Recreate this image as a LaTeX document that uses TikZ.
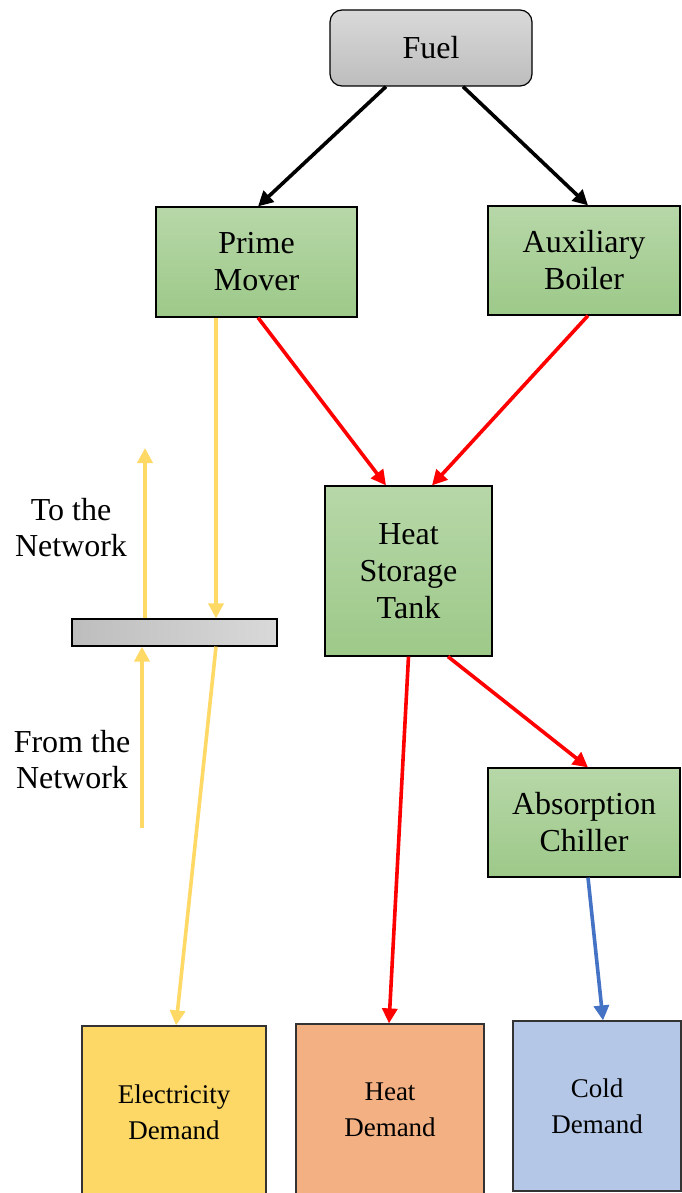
\documentclass[tikz,border=0pt]{standalone}
\usepackage{fontspec}
\setmainfont{Liberation Serif}
\newfontfamily\tnr{Liberation Serif}
\usetikzlibrary{arrows.meta}
\definecolor{gtop}{HTML}{B7D7A8}
\definecolor{gbot}{HTML}{9DC989}
\definecolor{graytop}{HTML}{D9D9D9}
\definecolor{graybot}{HTML}{BDBDBD}
\definecolor{eyel}{HTML}{FDD866}
\definecolor{horange}{HTML}{F3B083}
\definecolor{cblue}{HTML}{B4C7E7}
\definecolor{ayel}{HTML}{FFD966}
\definecolor{ablue}{HTML}{4472C4}
\begin{document}
\begin{tikzpicture}[x=1pt,y=-1pt,
  box/.style={draw=black, line width=1.2pt, inner sep=0pt, align=center, font=\tnr\fontsize{32}{37}\selectfont},
  greenbox/.style={box, top color=gtop, bottom color=gbot},
  demand/.style={box, draw=black!80, font=\tnr\fontsize{27}{36}\selectfont},
  lbl/.style={align=center, inner sep=0pt, font=\tnr\fontsize{32}{36}\selectfont},
  arr/.style={line width=3.6pt, -{Triangle[length=15pt,width=15pt]}}]
\useasboundingbox (0,0) rectangle (681,1193);
\node[box, rounded corners=12pt, top color=graytop, bottom color=graybot, minimum width=202pt, minimum height=76pt] (fuel) at (431,48) {Fuel};
\node[greenbox, minimum width=201pt, minimum height=110pt] (pm) at (256.5,262) {Prime\\Mover};
\node[greenbox, minimum width=192pt, minimum height=109pt] (aux) at (584,260.5) {Auxiliary\\Boiler};
\node[greenbox, minimum width=167pt, minimum height=170pt] (hst) at (408.5,571) {Heat\\Storage\\Tank};
\node[greenbox, minimum width=192pt, minimum height=109pt] (abs) at (584,822.5) {Absorption\\Chiller};
\node[box, left color=graybot, right color=graytop, minimum width=205pt, minimum height=27pt] (bar) at (174.5,632.5) {};
\node[demand, fill=eyel, minimum width=184pt, minimum height=172pt] (elec) at (174,1112) {Electricity\\Demand};
\node[demand, fill=horange, minimum width=188pt, minimum height=172pt] (heat) at (390,1110) {Heat\\Demand};
\node[demand, fill=cblue, minimum width=168pt, minimum height=170pt] (cold) at (597,1106) {Cold\\Demand};
\node[lbl] (tonet) at (71,528) {To the\\Network};
\node[lbl] (fromnet) at (72,760) {From the\\Network};
\coordinate (uptop) at (145,448);
\coordinate (upbot) at (142,828);
% arrows
\draw[arr, black] ([xshift=-45pt]fuel.south) -- ([xshift=1.5pt]pm.north);
\draw[arr, black] ([xshift=32pt]fuel.south) -- ([xshift=4pt]aux.north);
\draw[arr, red] ([xshift=1.5pt]pm.south) -- ([xshift=-22.5pt]hst.north);
\draw[arr, red] ([xshift=4pt]aux.south) -- ([xshift=23.5pt]hst.north);
\draw[arr, red] (hst.south) -- ([xshift=-1pt]heat.north);
\draw[arr, red] ([xshift=39.5pt]hst.south) -- ([xshift=4pt]abs.north);
\draw[arr, ablue] ([xshift=4pt]abs.south) -- ([xshift=6pt]cold.north);
\draw[arr, ayel] ([xshift=-40.5pt]pm.south) -- ([xshift=41.5pt]bar.north);
\draw[arr, ayel] ([xshift=41.5pt]bar.south) -- ([xshift=2pt]elec.north);
\draw[arr, ayel] ([xshift=-29.5pt]bar.north) -- (uptop);
\draw[arr, ayel] (upbot) -- ([xshift=-32.5pt]bar.south);
\end{tikzpicture}
\end{document}
